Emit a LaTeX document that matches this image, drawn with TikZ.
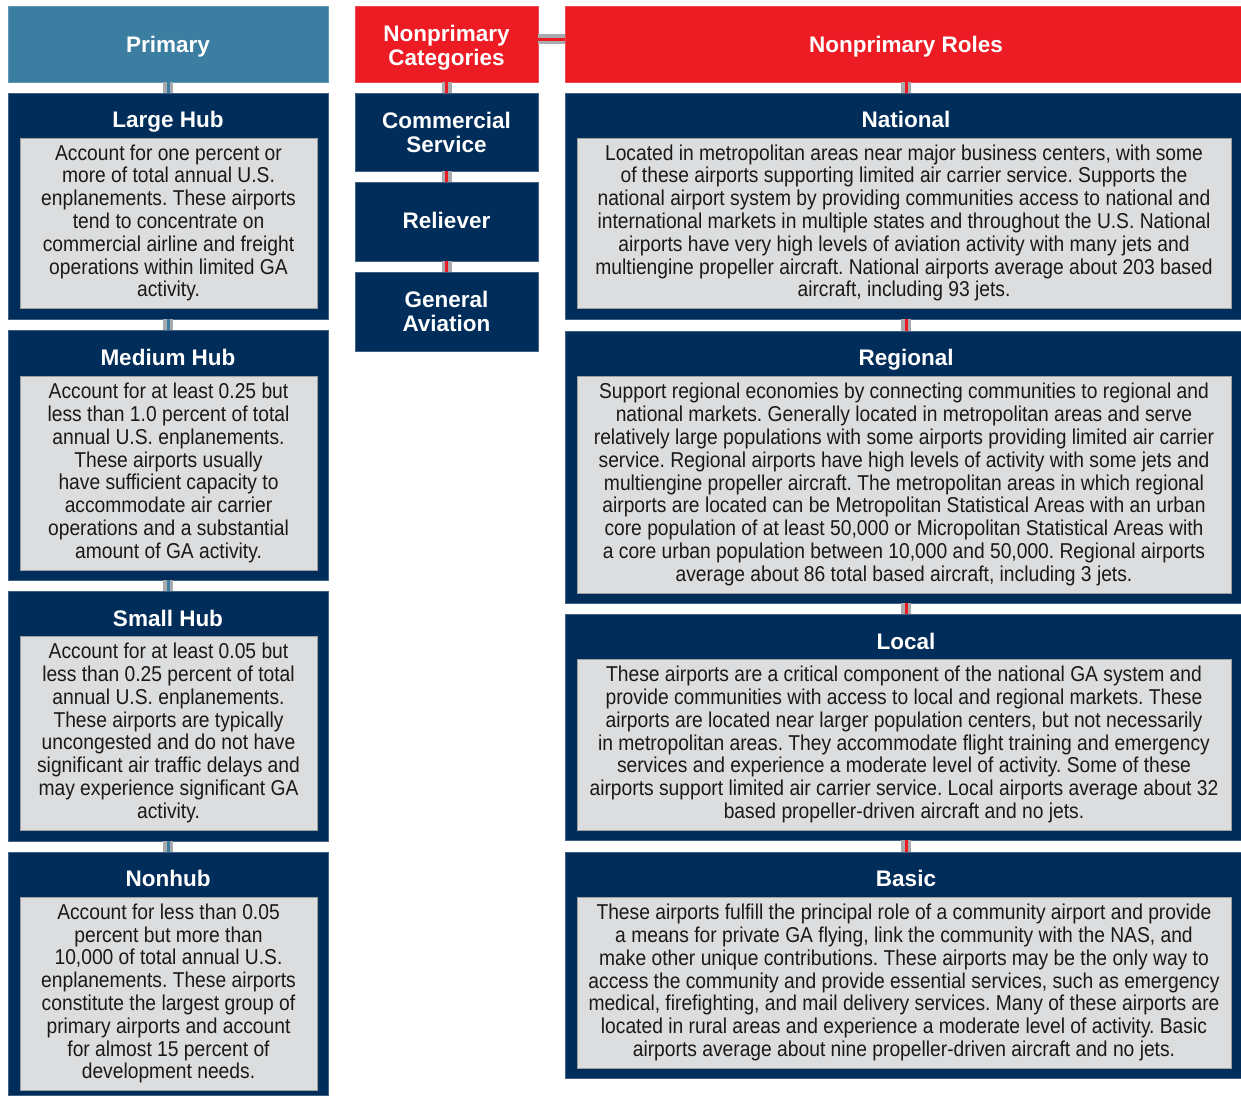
\documentclass[tikz,border=0pt]{standalone}
\usepackage{fontspec}
\setmainfont{Liberation Sans}
\newfontfamily\bodyfont[FakeStretch=0.895]{Liberation Sans}
\definecolor{navy}{HTML}{002D5A}
\definecolor{steel}{HTML}{3B7EA1}
\definecolor{fred}{HTML}{ED1C24}
\definecolor{innergray}{HTML}{DCDDDE}
\definecolor{conngray}{HTML}{A8AAAD}
\frenchspacing
\begin{document}
\begin{tikzpicture}[x=1pt,y=-1pt,
  outerbox/.style={rectangle, inner sep=0pt, outer sep=0pt, fill=navy, draw=navy!75!white, line width=0.8pt},
  hdrbox/.style={rectangle, inner sep=0pt, outer sep=0pt, line width=0.8pt, text=white, align=center,
     font=\fontsize{22.5}{24}\selectfont\bfseries},
  titletext/.style={anchor=base, inner sep=0pt, text=white, font=\fontsize{22.5}{24}\selectfont\bfseries},
  twoline/.style={anchor=center, inner sep=0pt, text=white, align=center, font=\fontsize{22.5}{24}\selectfont\bfseries},
  innerbox/.style={rectangle, inner sep=0pt, outer sep=0pt, fill=innergray, draw=gray!75, line width=0.8pt,
     align=center, text=black!90, font=\bodyfont\fontsize{21.5}{22.8}\selectfont},
  conn/.style={draw=conngray, line width=3.5pt, double=#1, double distance=3pt}
]
\useasboundingbox (0,0) rectangle (1241,1095);

% ---------------- Primary column ----------------
\node[hdrbox, fill=steel, draw=steel!80!white, minimum width=320pt, minimum height=76pt] (primary) at (168,44) {};
\node[titletext] (primaryt) at (168,52) {Primary};

\node[outerbox, minimum width=320pt, minimum height=226pt] (large) at (168,206) {};
\node[titletext] (larget) at (168,127) {Large Hub};
\node[innerbox, minimum width=297pt, minimum height=170pt] (largei) at (168.5,223) {Account for one percent or\\more of total annual U.S.\\enplanements. These airports\\tend to concentrate on\\commercial airline and freight\\operations within limited GA\\activity.};

\node[outerbox, minimum width=320pt, minimum height=250pt] (medium) at (168,455) {};
\node[titletext] (mediumt) at (168,365) {Medium Hub};
\node[innerbox, minimum width=297pt, minimum height=194pt] (mediumi) at (168.5,473) {Account for at least 0.25 but\\less than 1.0 percent of total\\annual U.S. enplanements.\\These airports usually\\have sufficient capacity to\\accommodate air carrier\\operations and a substantial\\amount of GA activity.};

\node[outerbox, minimum width=320pt, minimum height=250pt] (small) at (168,716) {};
\node[titletext] (smallt) at (168,626) {Small Hub};
\node[innerbox, minimum width=297pt, minimum height=194pt] (smalli) at (168.5,733) {Account for at least 0.05 but\\less than 0.25 percent of total\\annual U.S. enplanements.\\These airports are typically\\uncongested and do not have\\significant air traffic delays and\\may experience significant GA\\activity.};

\node[outerbox, minimum width=320pt, minimum height=243pt] (nonhub) at (168,973.5) {};
\node[titletext] (nonhubt) at (168,886) {Nonhub};
\node[innerbox, minimum width=297pt, minimum height=193pt] (nonhubi) at (168.5,993.5) {Account for less than 0.05\\percent but more than\\10,000 of total annual U.S.\\enplanements. These airports\\constitute the largest group of\\primary airports and account\\for almost 15 percent of\\development needs.};

% ---------------- Middle column ----------------
\node[hdrbox, fill=fred, draw=fred!80!white, minimum width=183pt, minimum height=76pt] (cats) at (446.5,44) {};
\node[twoline] (catst) at (446.5,47.5) {Nonprimary\\Categories};
\node[hdrbox, fill=navy, draw=navy!75!white, minimum width=183pt, minimum height=78pt] (comm) at (446.5,132) {};
\node[twoline] (commt) at (446.5,132.5) {Commercial\\Service};
\node[hdrbox, fill=navy, draw=navy!75!white, minimum width=183pt, minimum height=79pt] (rel) at (446.5,221.5) {};
\node[titletext] (relt) at (446.5,228) {Reliever};
\node[hdrbox, fill=navy, draw=navy!75!white, minimum width=183pt, minimum height=79pt] (ga) at (446.5,311.5) {};
\node[twoline] (gat) at (446.5,311) {General\\Aviation};

% ---------------- Right column ----------------
\node[hdrbox, fill=fred, draw=fred!80!white, minimum width=676pt, minimum height=76pt] (roles) at (903,44) {};
\node[titletext] (rolest) at (906,52) {Nonprimary Roles};

\node[outerbox, minimum width=676pt, minimum height=226pt] (national) at (903,206) {};
\node[titletext] (nationalt) at (906,127) {National};
\node[innerbox, minimum width=654pt, minimum height=170pt] (nationali) at (904,223) {Located in metropolitan areas near major business centers, with some\\of these airports supporting limited air carrier service. Supports the\\national airport system by providing communities access to national and\\international markets in multiple states and throughout the U.S. National\\airports have very high levels of aviation activity with many jets and\\multiengine propeller aircraft. National airports average about 203 based\\aircraft, including 93 jets.};

\node[outerbox, minimum width=676pt, minimum height=272pt] (regional) at (903,467) {};
\node[titletext] (regionalt) at (906,365) {Regional};
\node[innerbox, minimum width=654pt, minimum height=217pt] (regionali) at (904,484.5) {Support regional economies by connecting communities to regional and\\national markets. Generally located in metropolitan areas and serve\\relatively large populations with some airports providing limited air carrier\\service. Regional airports have high levels of activity with some jets and\\multiengine propeller aircraft. The metropolitan areas in which regional\\airports are located can be Metropolitan Statistical Areas with an urban\\core population of at least 50,000 or Micropolitan Statistical Areas with\\a core urban population between 10,000 and 50,000. Regional airports\\average about 86 total based aircraft, including 3 jets.};

\node[outerbox, minimum width=676pt, minimum height=226pt] (local) at (903,727) {};
\node[titletext] (localt) at (906,649) {Local};
\node[innerbox, minimum width=654pt, minimum height=171pt] (locali) at (904,744.5) {These airports are a critical component of the national GA system and\\provide communities with access to local and regional markets. These\\airports are located near larger population centers, but not necessarily\\in metropolitan areas. They accommodate flight training and emergency\\services and experience a moderate level of activity. Some of these\\airports support limited air carrier service. Local airports average about 32\\based propeller-driven aircraft and no jets.};

\node[outerbox, minimum width=676pt, minimum height=226pt] (basic) at (903,965) {};
\node[titletext] (basict) at (906,886) {Basic};
\node[innerbox, minimum width=654pt, minimum height=171pt] (basici) at (904,982.5) {These airports fulfill the principal role of a community airport and provide\\a means for private GA flying, link the community with the NAS, and\\make other unique contributions. These airports may be the only way to\\access the community and provide essential services, such as emergency\\medical, firefighting, and mail delivery services. Many of these airports are\\located in rural areas and experience a moderate level of activity. Basic\\airports average about nine propeller-driven aircraft and no jets.};

% ---------------- Connectors ----------------
\draw[conn=steel] (primary.south) -- (large.north);
\draw[conn=steel] (large.south) -- (medium.north);
\draw[conn=steel] (medium.south) -- (small.north);
\draw[conn=steel] (small.south) -- (nonhub.north);

\draw[conn=fred] (cats.south) -- (comm.north);
\draw[conn=fred] (comm.south) -- (rel.north);
\draw[conn=fred] (rel.south) -- (ga.north);

\draw[conn=fred] ([yshift=5pt]cats.east) -- ([yshift=5pt]roles.west);

\draw[conn=fred] ([xshift=3pt]roles.south) -- ([xshift=3pt]national.north);
\draw[conn=fred] ([xshift=3pt]national.south) -- ([xshift=3pt]regional.north);
\draw[conn=fred] ([xshift=3pt]regional.south) -- ([xshift=3pt]local.north);
\draw[conn=fred] ([xshift=3pt]local.south) -- ([xshift=3pt]basic.north);
\end{tikzpicture}
\end{document}
